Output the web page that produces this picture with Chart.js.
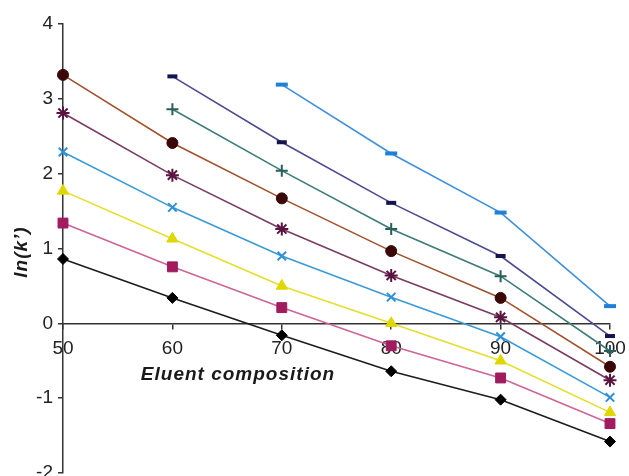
<!DOCTYPE html>
<html>
<head>
<meta charset="utf-8">
<script src="https://cdn.jsdelivr.net/npm/chart.js@4.4.1/dist/chart.umd.min.js"></script>
<style>
  html, body { margin: 0; padding: 0; background: #fff; }
  #wrap { width: 629px; height: 476px; }
</style>
</head>
<body>
<div id="wrap"><canvas id="chart"></canvas></div>
<script>
// eluent composition (x) and ln(k') for each solute series
const composition = [50, 60, 70, 80, 90, 100];
const yTicks = [-2, -1, 0, 1, 2, 3, 4];

const sDiamond  = [0.86, 0.34, -0.16, -0.64, -1.02, -1.58];
const sSquare   = [1.34, 0.755, 0.21, -0.30, -0.73, -1.34];
const sTriangle = [1.77, 1.13, 0.50, 0.00, -0.50, -1.19];
const sCross    = [2.29, 1.55, 0.90, 0.35, -0.18, -0.99];
const sStar     = [2.81, 1.98, 1.26, 0.64, 0.08, -0.76];
const sCircle   = [3.32, 2.41, 1.67, 0.965, 0.34, -0.58];
const sPlus     = [null, 2.86, 2.04, 1.26, 0.63, -0.37];
const sDash     = [null, 3.30, 2.42, 1.61, 0.90, -0.17];
const sDash2    = [null, null, 3.19, 2.27, 1.48, 0.23];

function series(values, line, marker, style, radius, bw) {
  return {
    data: composition.map((x, i) => ({ x: x, y: values[i] })),
    borderColor: line,
    borderWidth: 1.6,
    pointStyle: style,
    pointRadius: radius,
    pointBackgroundColor: marker,
    pointBorderColor: marker,
    pointBorderWidth: bw,
    clip: false,
    spanGaps: false,
    tension: 0
  };
}

const datasets = [
  series(sDiamond,  '#1c1c1c', '#000000', 'rectRot', 5.5, 1),
  series(sSquare,   '#cf6496', '#a01c5e', 'rect', 7, 1),
  series(sTriangle, '#e6de2c', '#e0d600', 'triangle', 6.5, 1),
  series(sCross,    '#3a9ad6', '#2e8fd6', 'crossRot', 6, 2),
  series(sStar,     '#7a3c62', '#5a1440', 'star', 6.5, 2),
  series(sCircle,   '#a0522d', '#3a0808', 'circle', 5.5, 1),
  series(sPlus,     '#3e7c78', '#2a5e5c', 'cross', 6, 2),
  series(sDash,     '#4c4b8f', '#14144e', 'line', 5, 4),
  series(sDash2,    '#3e90dc', '#2080d8', 'line', 6, 4)
];

// axis titles drawn by hand so they sit where the layout wants them
const titles = {
  id: 'titles',
  afterDraw(chart) {
    const ctx = chart.ctx;
    ctx.save();
    ctx.fillStyle = '#1a1a1a';
    ctx.font = 'italic bold 19px "Liberation Sans", Arial, sans-serif';
    ctx.letterSpacing = '1px';
    ctx.textAlign = 'center';
    ctx.textBaseline = 'middle';
    ctx.fillText('Eluent composition', 238, 375);
    ctx.translate(22, 252);
    ctx.rotate(-Math.PI / 2);
    ctx.fillText('ln(k\u2019)', 0, 0);
    ctx.restore();
  }
};

new Chart(document.getElementById('chart'), {
  type: 'line',
  data: { datasets: datasets },
  plugins: [titles],
  options: {
    responsive: true,
    maintainAspectRatio: false,
    animation: false,
    layout: { autoPadding: false, padding: { left: 0, top: 24, right: 19, bottom: 3 } },
    plugins: { legend: { display: false }, tooltip: { enabled: false } },
    scales: {
      x: {
        type: 'linear',
        min: 50,
        max: 100,
        position: { y: 0 },
        afterFit(s) { s.height = 0; s.paddingLeft = 0; s.paddingRight = 0; s.paddingTop = 0; s.paddingBottom = 0; },
        afterBuildTicks(s) { s.ticks = composition.map(v => ({ value: v })); },
        grid: { drawOnChartArea: false, drawTicks: true, tickLength: 5, color: '#333', lineWidth: 1.5 },
        border: { display: true, color: '#333', width: 1.5 },
        ticks: { color: '#222', padding: 9, maxRotation: 0, font: { size: 19, family: '"Liberation Sans", Arial, sans-serif' } }
      },
      y: {
        type: 'linear',
        min: -2,
        max: 4,
        position: 'left',
        afterFit(s) { s.width = 63; s.paddingTop = 0; s.paddingBottom = 0; s.paddingLeft = 0; s.paddingRight = 0; },
        afterBuildTicks(s) { s.ticks = yTicks.map(v => ({ value: v })); },
        grid: { drawOnChartArea: false, drawTicks: true, tickLength: 5, color: '#333', lineWidth: 1.5 },
        border: { display: true, color: '#333', width: 1.5 },
        ticks: { color: '#222', padding: 5, font: { size: 19, family: '"Liberation Sans", Arial, sans-serif' } }
      }
    }
  }
});
</script>
</body>
</html>
